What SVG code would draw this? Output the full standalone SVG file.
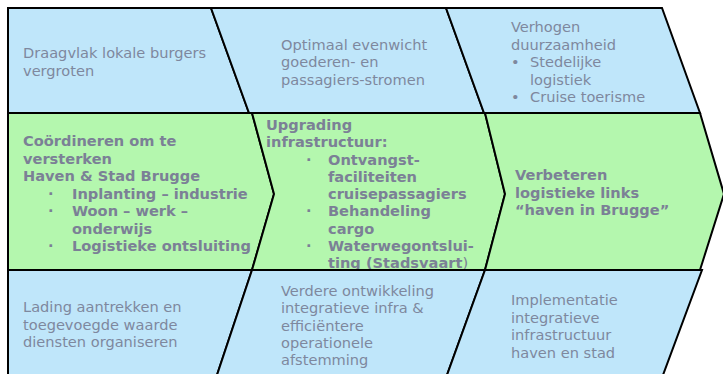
<svg xmlns="http://www.w3.org/2000/svg" width="723" height="374" viewBox="0 0 723 374">
<style>
.b{fill:#bfe6fa;stroke:#000;stroke-width:2;stroke-linejoin:miter}
.g{fill:#b4f7ae;stroke:#000;stroke-width:2;stroke-linejoin:miter}
text{font-family:"DejaVu Sans",Verdana,sans-serif;font-size:14.6px;fill:#7e889e}
.bd{font-weight:bold;fill:#7b8096}
.n{font-weight:normal}
</style>
<rect x="0" y="0" width="723" height="374" fill="#fff"/>
<g id="top1"><polygon class="b" points="8,8 211,8 249,113 8,113"/>
<text x="23" y="58">Draagvlak lokale burgers</text><text x="23" y="75.5">vergroten</text></g>
<g id="top2"><polygon class="b" points="211,8 446,8 484,113 249,113"/>
<text x="281" y="49.5">Optimaal evenwicht</text><text x="281" y="67">goederen-  en</text><text x="281" y="84.5">passagiers-stromen</text></g>
<g id="top3"><polygon class="b" points="446,8 662,8 700,113 484,113"/>
<text x="511" y="32">Verhogen</text><text x="511" y="49.5">duurzaamheid</text>
<text x="511" y="67">•</text><text x="530" y="67">Stedelijke</text><text x="530" y="84.5">logistiek</text>
<text x="511" y="102">•</text><text x="530" y="102">Cruise toerisme</text></g>
<g id="mid1"><polygon class="g" points="8,113 252,113 274,194 252,270 8,270"/>
<text class="bd" x="23" y="146">Coördineren om te</text><text class="bd" x="23" y="163.5">versterken</text><text class="bd" x="23" y="181">Haven &amp; Stad Brugge</text>
<text class="bd" x="48" y="198.5">·</text><text class="bd" x="72" y="198.5">Inplanting – industrie</text>
<text class="bd" x="48" y="216">·</text><text class="bd" x="72" y="216">Woon – werk –</text><text class="bd" x="72" y="233.5">onderwijs</text>
<text class="bd" x="48" y="251">·</text><text class="bd" x="72" y="251">Logistieke ontsluiting</text></g>
<g id="mid2"><polygon class="g" points="252,113 485,113 505,194 485,270 252,270 274,194"/>
<text class="bd" x="266" y="130">Upgrading</text><text class="bd" x="266" y="147.25">infrastructuur:</text>
<text class="bd" x="306" y="164.5">·</text><text class="bd" x="328" y="164.5">Ontvangst-</text><text class="bd" x="328" y="181.75">faciliteiten</text><text class="bd" x="328" y="199">cruisepassagiers</text>
<text class="bd" x="306" y="216.25">·</text><text class="bd" x="328" y="216.25">Behandeling</text><text class="bd" x="328" y="233.5">cargo</text>
<text class="bd" x="306" y="250.75">·</text><text class="bd" x="328" y="250.75">Waterwegontslui-</text><text class="bd" x="328" y="268">ting (Stadsvaart<tspan class="n">)</tspan></text></g>
<g id="mid3"><polygon class="g" points="485,113 700,113 724,194 700,270 485,270 505,194"/>
<text class="bd" x="515" y="180">Verbeteren</text><text class="bd" x="515" y="197.5">logistieke links</text><text class="bd" x="515" y="215">“haven in Brugge”</text></g>
<g id="bot1"><polygon class="b" points="8,270 252,270 217,375 8,375"/>
<text x="23" y="312">Lading aantrekken en</text><text x="23" y="329.5">toegevoegde waarde</text><text x="23" y="347">diensten organiseren</text></g>
<g id="bot2"><polygon class="b" points="252,270 485,270 447,375 217,375"/>
<text x="281" y="296">Verdere ontwikkeling</text><text x="281" y="313.25">integratieve infra &amp;</text><text x="281" y="330.5">efficiëntere</text><text x="281" y="347.75">operationele</text><text x="281" y="365">afstemming</text></g>
<g id="bot3"><polygon class="b" points="485,270 702,270 663,375 447,375"/>
<text x="511" y="305">Implementatie</text><text x="511" y="322.5">integratieve</text><text x="511" y="340">infrastructuur</text><text x="511" y="357.5">haven en stad</text></g>
<g id="connectors"></g>
</svg>
